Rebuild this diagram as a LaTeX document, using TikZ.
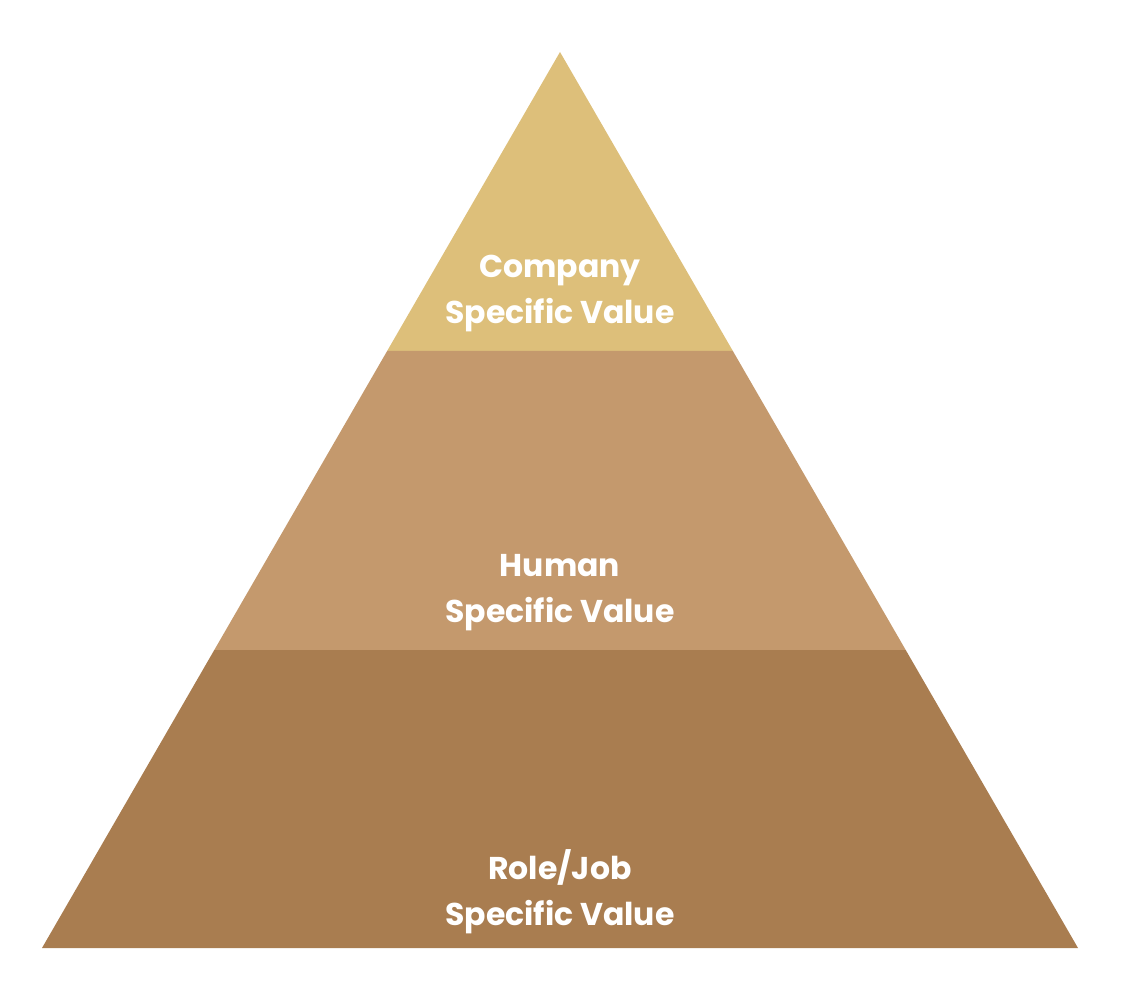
\documentclass[tikz,border=0pt]{standalone}
\usepackage{fontspec}
\setmainfont{Poppins}
\usetikzlibrary{calc}
\definecolor{topc}{HTML}{DDBF7A}
\definecolor{midc}{HTML}{C4996D}
\definecolor{botc}{HTML}{A97D50}
\begin{document}
\begin{tikzpicture}[x=1pt,y=-1pt,
  lbl/.style={text=white,font=\bfseries\fontsize{31.5}{46}\selectfont,align=center}]
\useasboundingbox (0,0) rectangle (1142,1000);
\coordinate (apex) at (560,52);
\coordinate (bl) at (42,948);
\coordinate (br) at (1078,948);
\coordinate (l1) at ($(apex)!0.3337!(bl)$);
\coordinate (r1) at ($(apex)!0.3337!(br)$);
\coordinate (l2) at ($(apex)!0.6674!(bl)$);
\coordinate (r2) at ($(apex)!0.6674!(br)$);
\fill[topc] (apex) -- (r1) -- (l1) -- cycle;
\fill[midc] (l1) -- (r1) -- (r2) -- (l2) -- cycle;
\fill[botc] (l2) -- (r2) -- (br) -- (bl) -- cycle;
\node[lbl] (t1) at (560,294) {Company\\Specific Value};
\node[lbl] (t2) at (560,593) {Human\\Specific Value};
\node[lbl] (t3) at (560,892) {Role/Job\\Specific Value};
\end{tikzpicture}
\end{document}
